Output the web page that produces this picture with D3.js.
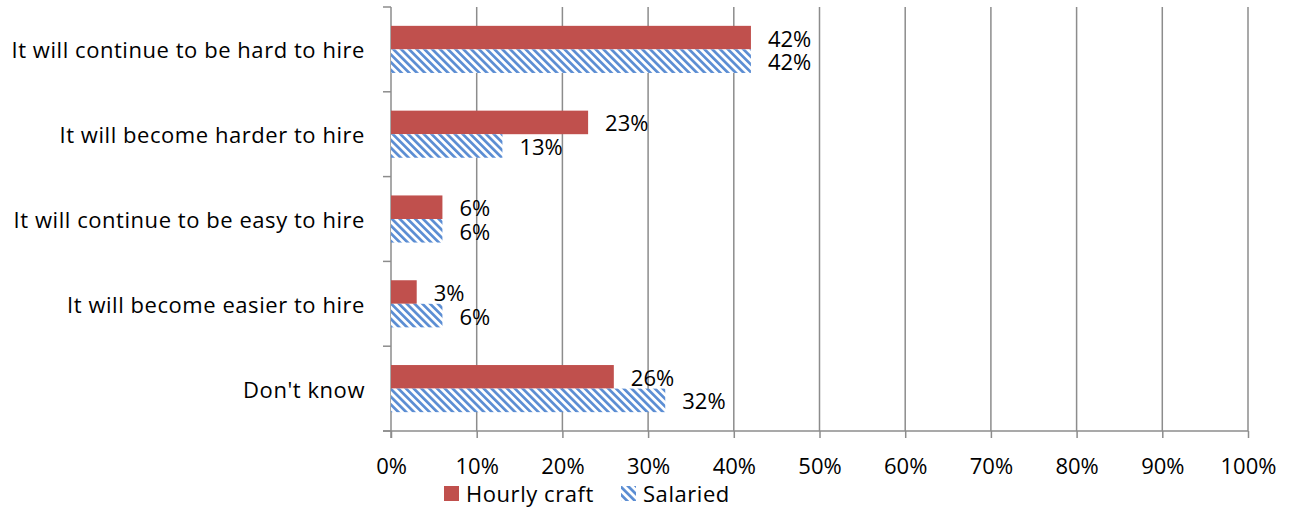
<!DOCTYPE html>
<html>
<head>
<meta charset="utf-8">
<script src="https://cdn.jsdelivr.net/npm/d3@7"></script>
<style>
  html, body { margin: 0; padding: 0; background: #fff; }
  svg text { font-family: "Open Sans", "Noto Sans", sans-serif; fill: #000; }
</style>
</head>
<body>
<svg id="chart" width="1297" height="509"></svg>
<script>
const categories = [
  "It will continue to be hard to hire",
  "It will become harder to hire",
  "It will continue to be easy to hire",
  "It will become easier to hire",
  "Don't know"
];
const hourlyCraft = [42, 23, 6, 3, 26];
const salaried = [42, 13, 6, 6, 32];
const seriesNames = ["Hourly craft", "Salaried"];
const xTicks = [0, 10, 20, 30, 40, 50, 60, 70, 80, 90, 100];

const svg = d3.select("#chart");
const plotLeft = 391, plotRight = 1248, plotTop = 7, plotBottom = 431;
const red = "#C0504D";
const fontSize = 22;
const textSpacing = 0.55;

const defs = svg.append("defs");
const pat = defs.append("pattern")
  .attr("id", "hatch")
  .attr("patternUnits", "userSpaceOnUse")
  .attr("width", 5.5).attr("height", 5.5)
  .attr("patternTransform", "rotate(-45)");
pat.append("rect").attr("width", 5.5).attr("height", 5.5).attr("fill", "#fff");
pat.append("rect").attr("width", 2.7).attr("height", 5.5).attr("fill", "#5B8DD3");

const x = d3.scaleLinear().domain([0, 100]).range([plotLeft, plotRight]);
const y = d3.scaleBand().domain(categories).range([plotTop, plotBottom]);
const inner = d3.scaleBand().domain(seriesNames).range([0, y.bandwidth()]).paddingInner(0).paddingOuter(0.8);

// vertical gridlines
svg.append("g").selectAll("line").data(xTicks.slice(1)).join("line")
  .attr("x1", d => x(d)).attr("x2", d => x(d))
  .attr("y1", plotTop).attr("y2", plotBottom)
  .attr("stroke", "#8c8c8c").attr("stroke-width", 1.5);

// bottom axis
const xAxis = svg.append("g").attr("transform", `translate(0,${plotBottom})`)
  .call(d3.axisBottom(x).tickValues(xTicks).tickFormat(d => d + "%").tickSize(7).tickPadding(20));
xAxis.select(".domain").attr("stroke", "#8c8c8c").attr("stroke-width", 1.5)
  .attr("d", `M${plotLeft - 8},0H${plotRight}`);
xAxis.selectAll(".tick line").attr("stroke", "#8c8c8c").attr("stroke-width", 1.5);
xAxis.selectAll(".tick text").attr("font-size", fontSize)
  .style("font-family", "'Open Sans', sans-serif").attr("fill", "#000");

// left axis
const yTickPos = d3.range(categories.length + 1).map(i => plotTop + i * y.step());
svg.append("line").attr("x1", plotLeft).attr("x2", plotLeft).attr("y1", plotTop).attr("y2", plotBottom + 7)
  .attr("stroke", "#8c8c8c").attr("stroke-width", 1.5);
svg.append("g").selectAll("line").data(yTickPos).join("line")
  .attr("x1", plotLeft - 8).attr("x2", plotLeft).attr("y1", d => d).attr("y2", d => d)
  .attr("stroke", "#8c8c8c").attr("stroke-width", 1.5);

svg.append("g").selectAll("text").data(categories).join("text")
  .attr("x", 365).attr("y", d => y(d) + y.bandwidth() / 2)
  .attr("text-anchor", "end").attr("dominant-baseline", "central")
  .attr("font-size", fontSize).attr("letter-spacing", textSpacing).text(d => d);

// bars with value labels
const rows = categories.map((c, i) => ({ c, vals: [hourlyCraft[i], salaried[i]] }));
const g = svg.append("g");
rows.forEach(r => {
  r.vals.forEach((v, j) => {
    const yy = y(r.c) + inner(seriesNames[j]);
    g.append("rect")
      .attr("x", x(0)).attr("y", yy)
      .attr("width", x(v) - x(0)).attr("height", inner.bandwidth())
      .attr("fill", j === 0 ? red : "url(#hatch)");
    g.append("text")
      .attr("x", x(v) + 17).attr("y", yy + inner.bandwidth() / 2)
      .attr("dominant-baseline", "central").attr("font-size", fontSize)
      .text(v + "%");
  });
});

// legend
const legend = svg.append("g");
legend.append("rect").attr("x", 444).attr("y", 486).attr("width", 15).attr("height", 15).attr("fill", red);
legend.append("text").attr("x", 466).attr("y", 493).attr("dominant-baseline", "central")
  .attr("font-size", fontSize).attr("letter-spacing", textSpacing).text(seriesNames[0]);
legend.append("rect").attr("x", 621).attr("y", 486).attr("width", 15).attr("height", 15).attr("fill", "url(#hatch)");
legend.append("text").attr("x", 643).attr("y", 493).attr("dominant-baseline", "central")
  .attr("font-size", fontSize).attr("letter-spacing", textSpacing).text(seriesNames[1]);
</script>
</body>
</html>
